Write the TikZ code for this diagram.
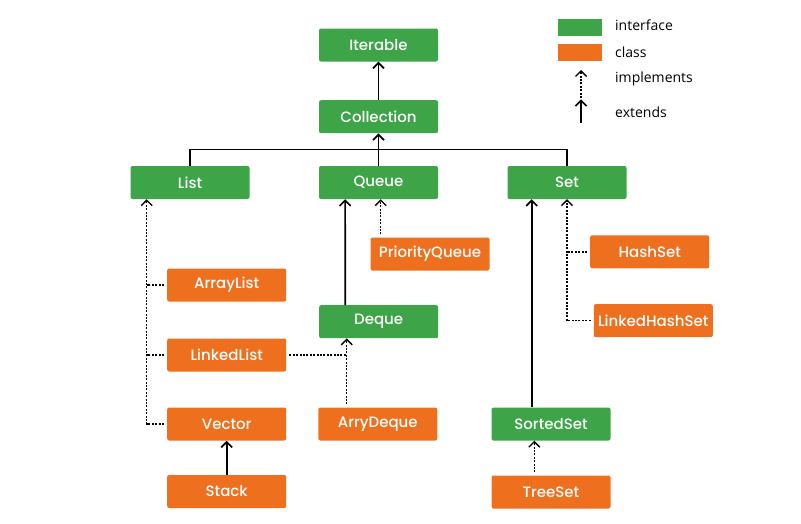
\documentclass[tikz,border=0pt]{standalone}
\usepackage{fontspec}
\setmainfont{Poppins Medium}
\newfontfamily\legendfont{Open Sans}
\usetikzlibrary{arrows.meta}
\definecolor{ifgreen}{RGB}{61,164,71}
\definecolor{clsorange}{RGB}{238,112,30}
\tikzset{>={Straight Barb[length=5.5pt,width=11pt]}}

\begin{document}
\begin{tikzpicture}[x=1pt,y=-1pt,
	box/.style={rounded corners=2pt, minimum width=119pt, minimum height=33pt, inner sep=0pt, text=white, font=\fontsize{15}{17}\selectfont},
	iface/.style={box, fill=ifgreen},
	cls/.style={box, fill=clsorange},
	ext/.style={line width=1.7pt, ->},
	impl/.style={line width=1.4pt, dash pattern=on 2pt off 1.4pt, shorten <=3pt},
	legendtext/.style={anchor=west, inner sep=0pt, font=\legendfont\fontsize{14}{16}\selectfont}]
	\useasboundingbox (0,0) rectangle (801,523);
	
	%interfaces
	\node[iface] (Iterable) at (378.5,45) {Iterable};
	\node[iface] (Collection) at (378.5,116.7) {Collection};
	\node[iface] (List) at (190,182.5) {List};
	\node[iface] (Queue) at (378.5,182.5) {Queue};
	\node[iface] (Set) at (567,182.5) {Set};
	\node[iface] (Deque) at (378.7,321.7) {Deque};
	\node[iface] (SortedSet) at (551,424) {SortedSet};
	
	%classes
	\node[cls] (PriorityQueue) at (430,254) {PriorityQueue};
	\node[cls] (ArrayList) at (226.7,285) {ArrayList};
	\node[cls] (LinkedList) at (226.7,355) {LinkedList};
	\node[cls] (Vector) at (226.7,424) {Vector};
	\node[cls] (Stack) at (226.7,491.5) {Stack};
	\node[cls] (ArryDeque) at (377.8,424) {ArryDeque};
	\node[cls] (HashSet) at (649.7,251.8) {HashSet};
	\node[cls] (LinkedHashSet) at (653.3,320.7) {LinkedHashSet};
	\node[cls] (TreeSet) at (551,492) {TreeSet};
	
	%extends
	\coordinate (bus) at (378.5,149.3);
	\draw[ext] (Collection) -- (Iterable);
	\draw[line width=1.3pt] (List.north) |- (bus) -| (Set.north);
	\draw[ext] (Queue) -- (Collection);
	\draw[ext] ([xshift=-33.4pt]Deque.north) -- ([xshift=-33.4pt]Queue.south);
	\draw[ext] (Stack) -- (Vector);
	\draw[ext] ([xshift=-19.3pt]SortedSet.north) -- ([xshift=-19.3pt]SortedSet.north |- Set.south);
	
	%implements
	\coordinate (lbar) at ([xshift=-43.3pt]List.south);
	\coordinate (dbar) at ([xshift=-32pt]Deque.south);
	\draw[impl, ->] (Vector.west) -| (lbar);
	\foreach \c in {ArrayList, LinkedList}{
		\draw[impl] (\c.west) -- (\c.west -| lbar);
	}
	\draw[impl, ->] (ArryDeque.north -| dbar) -- (dbar);
	\draw[impl] (LinkedList.east) -- (LinkedList.east -| dbar);
	\draw[impl, ->] ([xshift=2.2pt]Queue.south |- PriorityQueue.north) -- ([xshift=2.2pt]Queue.south);
	\draw[impl, ->] (LinkedHashSet.west) -| (Set.south);
	\draw[impl] (HashSet.west) -- (HashSet.west -| Set.south);
	\draw[impl, ->] ([xshift=-16.7pt]TreeSet.north) -- ([xshift=-16.7pt]SortedSet.south);
	
	%legend
	\node[fill=ifgreen, minimum width=43.4pt, minimum height=16.4pt, inner sep=0pt] (keyIface) at (580,27.5) {};
	\node[fill=clsorange, minimum width=43.4pt, minimum height=16.7pt, inner sep=0pt] (keyCls) at (580,52.4) {};
	\node[legendtext] (txtIface) at (615,25.7) {interface};
	\node[legendtext] (txtCls) at (615,52.7) {class};
	\node[legendtext] (txtImpl) at (615,79) {implements};
	\node[legendtext] (txtExt) at (615,112.7) {extends};
	\coordinate (implLow) at (581,98);
	\coordinate (implTop) at (581,70);
	\coordinate (extLow) at (581,123);
	\coordinate (extTop) at (581,99.3);
	\draw[impl, shorten <=0pt, ->] (implLow) -- (implTop);
	\draw[ext] (extLow) -- (extTop);
\end{tikzpicture}
\end{document}
